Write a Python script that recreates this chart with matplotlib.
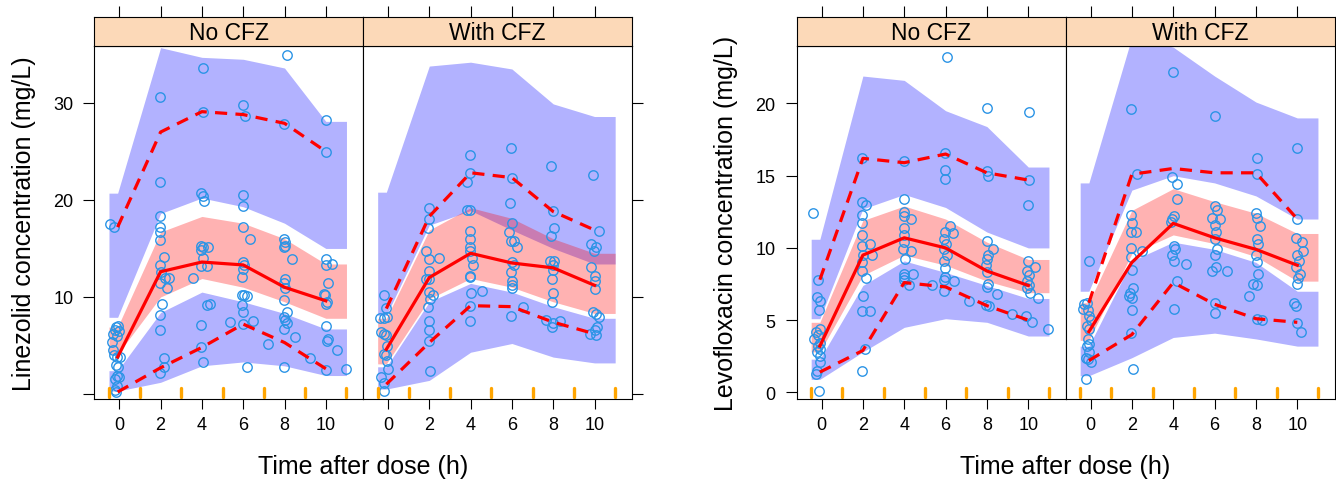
import matplotlib
matplotlib.use('Agg')
import matplotlib.pyplot as plt
import numpy as np

plt.rcParams['font.family'] = ['Liberation Sans', 'DejaVu Sans']

# ---------------- data ----------------
bin_t = [-0.08, 2, 4, 6, 8, 10]
bin_edges = [-0.5, 1, 3, 5, 7, 9, 11]
x_ticks = [0, 2, 4, 6, 8, 10]
x_tick_labels = ['0', '2', '4', '6', '8', '10']
strip_labels = ['No CFZ', 'With CFZ']
lzd_y_ticks = [0, 10, 20, 30]
lzd_y_tick_labels = ['', '10', '20', '30']
lfx_y_ticks = [0, 5, 10, 15, 20]
lfx_y_tick_labels = ['0', '5', '10', '15', '20']
lzd_ylabel = 'Linezolid concentration (mg/L)'
lfx_ylabel = 'Levofloxacin concentration (mg/L)'
xlabel = 'Time after dose (h)'

# Linezolid, No CFZ
lzd_no_t = [-0.45, -0.26, -0.16, -0.05, -0.21, 0.0, -0.29, -0.10, -0.37, -0.32, -0.26, -0.13, 0.03, -0.16, -0.05, -0.10, 0.0, -0.21, -0.13, -0.21, -0.16,
            1.97, 1.97, 1.97, 1.97, 1.97, 1.97, 2.16, 1.97, 2.0, 1.97, 2.21, 2.42, 2.29, 2.05, 1.97, 1.97, 2.16, 2.16, 1.97,
            4.03, 4.03, 3.98, 4.06, 4.10, 3.94, 4.06, 4.31, 3.94, 4.06, 3.98, 4.26, 3.55, 4.23, 4.39, 3.98, 3.98, 4.06,
            5.97, 6.08, 5.97, 5.97, 5.97, 6.32, 5.97, 6.03, 5.97, 5.94, 5.92, 6.03, 6.16, 5.94, 5.97, 6.45, 5.35, 6.0, 6.16,
            8.10, 7.97, 7.97, 8.02, 8.02, 7.97, 8.34, 8.02, 7.97, 8.02, 7.97, 8.10, 7.97, 8.02, 8.10, 7.97, 8.50, 7.21, 9.23, 7.97,
            10.0, 10.03, 10.0, 10.0, 10.32, 10.11, 9.90, 9.95, 10.06, 10.0, 10.0, 10.11, 10.06, 10.52, 10.03, 11.0]
lzd_no_c = [17.5, 17.2, 6.9, 7.0, 6.55, 6.45, 6.2, 6.0, 5.4, 4.5, 4.0, 3.8, 3.8, 3.0, 2.8, 1.9, 1.7, 1.55, 0.86, 0.45, 0.17,
            30.6, 21.9, 18.3, 17.2, 16.7, 15.9, 14.1, 13.3, 12.6, 11.4, 12.0, 12.0, 10.9, 9.3, 8.1, 6.55, 3.7, 2.8, 2.2,
            33.6, 29.1, 20.7, 20.4, 19.9, 15.3, 15.1, 15.2, 14.8, 14.0, 13.2, 13.2, 12.0, 9.2, 9.3, 7.1, 4.8, 3.3,
            29.8, 28.7, 20.5, 19.4, 17.2, 16.0, 13.6, 13.3, 12.9, 12.1, 10.2, 10.2, 10.1, 9.2, 8.4, 7.5, 7.4, 7.2, 2.8,
            34.9, 27.8, 16.0, 15.7, 15.3, 15.1, 13.9, 11.8, 11.4, 10.9, 9.7, 8.4, 7.9, 7.6, 7.3, 6.65, 5.9, 5.2, 3.7, 2.8,
            28.2, 24.9, 13.9, 13.3, 13.4, 11.4, 10.3, 10.2, 9.5, 9.3, 7.0, 5.7, 5.5, 4.5, 2.5, 2.6]
lzd_no_hi_hi = [20.7, 35.7, 34.7, 34.5, 33.6, 28.1]
lzd_no_hi_lo = [7.9, 18.6, 20.2, 19.3, 17.6, 15.0]
lzd_no_med_hi = [6.9, 16.7, 18.3, 17.6, 16.0, 13.4]
lzd_no_med_lo = [4.1, 10.0, 11.9, 11.0, 9.5, 7.8]
lzd_no_lo_hi = [2.4, 8.4, 10.5, 9.5, 8.3, 6.7]
lzd_no_lo_lo = [0.3, 1.2, 2.9, 3.3, 2.9, 1.9]
lzd_no_obs_med = [3.8, 12.6, 13.6, 13.3, 11.0, 9.6]
lzd_no_obs_hi = [17.2, 27.0, 29.1, 28.8, 27.9, 25.0]
lzd_no_obs_lo = [0.2, 2.7, 4.8, 7.2, 5.3, 2.6]

# Linezolid, With CFZ
lzd_cfz_t = [-0.21, -0.08, -0.37, -0.21, -0.05, -0.32, -0.21, -0.08, -0.05, -0.21, -0.11, -0.05, 0.0, -0.32, -0.21, -0.21,
             1.98, 1.98, 1.94, 1.85, 1.98, 2.47, 1.98, 1.98, 1.82, 1.98, 2.18, 2.02, 1.94, 1.98, 1.98, 1.98, 2.02,
             3.98, 3.95, 3.82, 3.82, 3.95, 3.95, 3.95, 3.95, 3.95, 4.08, 4.11, 3.95, 3.98, 4.03, 4.56, 3.95, 3.98,
             5.97, 6.02, 5.89, 6.02, 5.85, 5.97, 6.08, 6.24, 6.02, 6.08, 5.97, 6.02, 6.02, 6.02, 6.56, 5.97,
             7.90, 7.98, 8.06, 7.90, 7.85, 8.02, 7.98, 7.98, 7.95, 7.98, 7.95, 7.63, 8.31, 7.98, 7.95,
             9.92, 10.21, 9.84, 10.08, 9.97, 9.84, 10.0, 10.0, 10.0, 9.92, 10.05, 10.21, 10.11, 10.0, 9.76, 10.08]
lzd_cfz_c = [10.2, 8.9, 7.8, 7.8, 7.9, 6.4, 6.2, 6.1, 4.9, 4.1, 4.0, 3.4, 2.6, 1.7, 1.1, 0.34,
             19.2, 18.0, 17.1, 14.7, 13.9, 14.0, 12.7, 11.9, 11.8, 10.5, 10.2, 9.8, 9.0, 7.5, 6.55, 5.5, 2.4,
             24.6, 22.8, 21.8, 19.0, 19.0, 16.8, 16.0, 15.1, 14.7, 14.0, 13.3, 12.2, 12.1, 10.4, 10.6, 9.1, 7.5,
             25.4, 22.3, 19.7, 17.6, 16.7, 15.8, 15.8, 15.1, 13.6, 13.3, 12.6, 11.6, 11.2, 10.9, 9.0, 8.0,
             23.5, 18.9, 17.1, 16.3, 13.7, 13.7, 13.3, 12.8, 11.9, 10.4, 9.5, 7.6, 7.5, 7.3, 6.9,
             22.6, 16.8, 15.5, 15.2, 14.7, 13.1, 12.2, 11.6, 10.8, 8.4, 8.2, 7.9, 6.9, 6.55, 6.2, 6.1]
lzd_cfz_hi_hi = [20.8, 33.8, 34.2, 33.5, 29.9, 28.6]
lzd_cfz_hi_lo = [8.1, 17.4, 18.9, 16.9, 15.0, 13.4]
lzd_cfz_med_hi = [7.8, 16.9, 19.2, 18.1, 16.0, 14.5]
lzd_cfz_med_lo = [3.1, 9.8, 11.9, 11.0, 9.5, 8.3]
lzd_cfz_lo_hi = [2.8, 9.5, 11.4, 10.5, 9.0, 7.8]
lzd_cfz_lo_lo = [0.5, 1.4, 4.3, 5.2, 3.8, 3.2]
lzd_cfz_obs_med = [4.6, 12.0, 14.5, 13.5, 13.0, 11.2]
lzd_cfz_obs_hi = [8.8, 18.3, 22.8, 22.3, 18.8, 16.9]
lzd_cfz_obs_lo = [1.0, 5.3, 9.1, 9.0, 7.4, 6.2]

# Levofloxacin, No CFZ
lfx_no_t = [-0.40, -0.18, -0.24, -0.05, -0.13, -0.08, -0.29, -0.18, -0.37, -0.08, -0.18, -0.05, -0.21, -0.08, -0.05, -0.21, -0.29, -0.13,
            1.96, 1.96, 2.17, 1.96, 1.96, 1.96, 2.33, 1.96, 2.01, 2.44, 1.96, 1.96, 2.17, 2.01, 1.96, 2.33, 2.12, 1.96,
            4.0, 4.0, 4.0, 4.0, 4.32, 4.0, 4.0, 4.0, 3.94, 4.32, 4.05, 3.97, 4.42, 3.97, 4.0, 4.21, 5.34,
            6.06, 5.98, 5.98, 5.98, 6.19, 5.98, 6.35, 5.93, 6.03, 5.93, 6.06, 5.93, 5.98, 5.98, 6.41, 5.93, 5.90, 7.15,
            7.99, 7.99, 8.07, 7.99, 8.31, 8.07, 7.99, 7.96, 7.99, 8.07, 7.99, 8.47, 7.96, 8.12, 9.20,
            10.03, 10.03, 9.97, 9.97, 10.32, 9.92, 10.05, 9.92, 10.05, 9.92, 10.08, 10.48, 9.89, 10.16, 10.96]
lfx_no_c = [12.4, 7.8, 6.6, 6.3, 5.7, 4.4, 4.2, 4.0, 3.7, 3.4, 3.2, 3.0, 2.8, 2.5, 2.1, 1.5, 1.3, 0.1,
            16.2, 13.2, 13.0, 12.3, 11.7, 10.9, 10.3, 10.1, 9.5, 9.5, 9.0, 8.4, 7.9, 6.7, 5.6, 5.6, 3.0, 1.5,
            16.0, 13.4, 12.5, 12.2, 12.0, 11.4, 10.9, 10.4, 9.9, 9.8, 9.2, 8.2, 8.2, 8.0, 7.8, 7.4, 7.4,
            23.2, 16.6, 15.4, 14.8, 11.5, 11.1, 11.0, 10.6, 10.3, 9.9, 9.5, 9.1, 8.6, 8.0, 7.7, 7.8, 7.0, 6.3,
            19.7, 15.3, 15.0, 10.5, 9.9, 9.5, 9.2, 8.8, 8.3, 7.5, 7.3, 6.8, 6.05, 6.0, 5.4,
            19.4, 14.7, 13.0, 9.1, 8.7, 8.4, 8.1, 7.7, 7.4, 7.2, 6.9, 6.5, 5.3, 4.9, 4.4]
lfx_no_hi_hi = [10.6, 21.9, 21.6, 19.5, 18.4, 15.6]
lfx_no_hi_lo = [5.1, 12.7, 13.7, 12.8, 11.1, 10.0]
lfx_no_med_hi = [4.85, 11.9, 12.9, 12.0, 10.4, 9.2]
lfx_no_med_lo = [2.8, 8.1, 9.5, 8.8, 7.7, 6.9]
lfx_no_lo_hi = [2.3, 7.4, 9.1, 8.3, 7.4, 6.5]
lfx_no_lo_lo = [0.9, 2.8, 4.5, 5.1, 4.85, 3.9]
lfx_no_obs_med = [3.2, 9.5, 10.7, 10.0, 8.4, 7.4]
lfx_no_obs_hi = [7.8, 16.2, 15.9, 16.5, 15.2, 14.7]
lfx_no_obs_lo = [1.4, 2.9, 7.6, 7.3, 6.0, 5.0]

# Levofloxacin, With CFZ
lfx_cfz_t = [-0.08, -0.32, -0.19, -0.35, -0.13, -0.08, 0.0, -0.16, -0.08, -0.13, -0.08, -0.16, -0.08, -0.24, -0.13, 0.0, -0.24,
             1.97, 2.23, 1.97, 2.02, 1.97, 2.18, 1.97, 2.50, 1.97, 2.02, 2.06, 1.90, 1.85, 2.02, 2.02, 1.97, 2.06,
             4.0, 3.95, 4.16, 4.19, 3.95, 4.03, 3.87, 4.03, 4.11, 3.95, 4.03, 4.60, 4.16, 4.03,
             6.0, 6.0, 6.10, 5.89, 6.26, 6.0, 6.05, 6.0, 6.10, 6.0, 6.05, 5.89, 6.61, 6.0, 6.0,
             8.03, 8.03, 7.98, 8.06, 8.19, 8.03, 8.10, 7.98, 8.03, 8.10, 7.87, 8.06, 7.66, 8.03, 8.31,
             10.0, 10.0, 9.92, 10.24, 10.29, 10.0, 10.08, 9.92, 10.13, 10.03, 10.0, 9.84, 9.92, 10.0, 10.16]
lfx_cfz_c = [9.1, 6.1, 6.2, 5.8, 5.7, 5.3, 5.0, 4.6, 4.4, 3.7, 3.35, 3.2, 2.8, 2.4, 2.3, 2.1, 0.9,
             19.6, 15.1, 12.3, 11.7, 11.1, 11.1, 10.0, 9.8, 9.4, 8.5, 7.2, 6.9, 6.7, 6.5, 5.7, 4.1, 1.6,
             22.2, 14.9, 14.4, 13.4, 12.0, 12.2, 11.8, 10.1, 9.9, 9.5, 9.1, 8.9, 7.7, 5.8,
             19.1, 12.9, 12.6, 12.1, 12.0, 11.6, 11.1, 10.6, 9.9, 9.5, 8.7, 8.4, 8.4, 6.2, 5.5,
             16.2, 15.1, 12.4, 12.1, 11.5, 10.6, 10.3, 9.5, 9.0, 8.2, 7.5, 7.4, 6.65, 5.1, 5.0,
             16.9, 12.0, 10.7, 10.4, 9.8, 9.5, 9.1, 8.7, 8.2, 7.9, 7.5, 6.2, 6.0, 4.8, 4.2]
lfx_cfz_hi_hi = [14.5, 24.6, 23.9, 21.9, 20.1, 19.0]
lfx_cfz_hi_lo = [7.0, 14.0, 15.0, 14.5, 13.6, 12.0]
lfx_cfz_med_hi = [6.2, 12.6, 14.1, 13.2, 12.4, 11.0]
lfx_cfz_med_lo = [3.6, 9.6, 10.9, 10.3, 9.4, 7.7]
lfx_cfz_lo_hi = [3.2, 9.1, 10.4, 9.9, 9.0, 7.0]
lfx_cfz_lo_lo = [1.15, 2.4, 3.8, 4.1, 3.7, 3.2]
lfx_cfz_obs_med = [4.2, 9.0, 11.7, 10.7, 9.9, 8.8]
lfx_cfz_obs_hi = [6.2, 15.1, 15.5, 15.2, 15.2, 12.0]
lfx_cfz_obs_lo = [2.2, 4.0, 7.6, 6.1, 5.1, 4.85]

# ---------------- layout ----------------
W, H = 1336, 481
fig = plt.figure(figsize=(W / 100, H / 100), dpi=100)

PANEL_TOP, PANEL_BOT, STRIP_TOP = 46.7, 400.0, 18.3
XLIM = (-1.21, 11.8)
PT_COLOR = '#2B94E6'
STRIP_COLOR = '#FCD9B8'
LW_AX = 0.8


def px_axes(l, t, r, b):
    return fig.add_axes([l / W, 1 - b / H, (r - l) / W, (b - t) / H])


def ext(v):
    return [v[0]] + list(v) + [v[-1]]


def draw_panel(l, r, ylim, yticks, yticklabels, side, strip_text, t, c,
               hi_hi, hi_lo, med_hi, med_lo, lo_hi, lo_lo, o_med, o_hi, o_lo):
    ax = px_axes(l, PANEL_TOP, r, PANEL_BOT)
    ax.set_xlim(*XLIM)
    ax.set_ylim(*ylim)
    xe = [bin_edges[0]] + list(bin_t) + [bin_edges[-1]]
    ax.fill_between(xe, ext(lo_lo), ext(lo_hi), color='blue', alpha=0.3, lw=0)
    ax.fill_between(xe, ext(hi_lo), ext(hi_hi), color='blue', alpha=0.3, lw=0)
    ax.fill_between(xe, ext(med_lo), ext(med_hi), color='red', alpha=0.3, lw=0)
    ax.plot(t, c, 'o', mfc='none', mec=PT_COLOR, ms=6.8, mew=1.0)
    ax.plot(bin_t, o_med, color='red', lw=2.3)
    ax.plot(bin_t, o_hi, color='red', lw=2.3, ls=(0, (3.8, 2.6)))
    ax.plot(bin_t, o_lo, color='red', lw=2.3, ls=(0, (3.8, 2.6)))
    for b in bin_edges:
        ax.plot([b, b], [0.006, 0.03], transform=ax.get_xaxis_transform(),
                color='orange', lw=2.4, solid_capstyle='round', clip_on=False)
    ax.set_xticks(x_ticks)
    ax.set_xticklabels(x_tick_labels)
    ax.set_yticks(yticks)
    ax.set_yticklabels(yticklabels)
    ax.tick_params(axis='x', direction='out', length=7.5, width=LW_AX,
                   labelsize=13, pad=5, top=False)
    if side == 'left':
        ax.tick_params(axis='y', direction='out', length=8, width=LW_AX,
                       labelsize=13, pad=7, left=True, right=False,
                       labelleft=True, labelright=False)
    else:
        ax.tick_params(axis='y', direction='out', length=8, width=LW_AX,
                       left=False, right=True, labelleft=False, labelright=False)
    for s in ax.spines.values():
        s.set_linewidth(LW_AX)

    sax = px_axes(l, STRIP_TOP, r, PANEL_TOP)
    sax.set_facecolor(STRIP_COLOR)
    sax.set_xlim(*XLIM)
    sax.set_ylim(0, 1)
    sax.set_xticks(x_ticks)
    sax.set_yticks([])
    sax.tick_params(axis='x', direction='out', length=8, width=LW_AX,
                    top=True, bottom=False, labeltop=False, labelbottom=False)
    for s in sax.spines.values():
        s.set_linewidth(LW_AX)
    sax.text(0.5, 0.45, strip_text, transform=sax.transAxes, ha='center',
             va='center', fontsize=16.5)
    return ax


LZD_YLIM = (-0.52, 35.9)
LFX_YLIM = (-0.46, 24.0)

draw_panel(94.3, 363.0, LZD_YLIM, lzd_y_ticks, lzd_y_tick_labels, 'left', strip_labels[0],
           lzd_no_t, lzd_no_c, lzd_no_hi_hi, lzd_no_hi_lo, lzd_no_med_hi, lzd_no_med_lo,
           lzd_no_lo_hi, lzd_no_lo_lo, lzd_no_obs_med, lzd_no_obs_hi, lzd_no_obs_lo)
draw_panel(363.0, 631.7, LZD_YLIM, lzd_y_ticks, lzd_y_tick_labels, 'right', strip_labels[1],
           lzd_cfz_t, lzd_cfz_c, lzd_cfz_hi_hi, lzd_cfz_hi_lo, lzd_cfz_med_hi, lzd_cfz_med_lo,
           lzd_cfz_lo_hi, lzd_cfz_lo_lo, lzd_cfz_obs_med, lzd_cfz_obs_hi, lzd_cfz_obs_lo)
draw_panel(796.5, 1065.5, LFX_YLIM, lfx_y_ticks, lfx_y_tick_labels, 'left', strip_labels[0],
           lfx_no_t, lfx_no_c, lfx_no_hi_hi, lfx_no_hi_lo, lfx_no_med_hi, lfx_no_med_lo,
           lfx_no_lo_hi, lfx_no_lo_lo, lfx_no_obs_med, lfx_no_obs_hi, lfx_no_obs_lo)
draw_panel(1065.5, 1334.5, LFX_YLIM, lfx_y_ticks, lfx_y_tick_labels, 'right', strip_labels[1],
           lfx_cfz_t, lfx_cfz_c, lfx_cfz_hi_hi, lfx_cfz_hi_lo, lfx_cfz_med_hi, lfx_cfz_med_lo,
           lfx_cfz_lo_hi, lfx_cfz_lo_lo, lfx_cfz_obs_med, lfx_cfz_obs_hi, lfx_cfz_obs_lo)

mid_y = 1 - (PANEL_TOP + PANEL_BOT) / 2 / H
fig.text(24.5 / W, mid_y, lzd_ylabel, rotation=90, ha='center', va='center', fontsize=18)
fig.text(726 / W, mid_y, lfx_ylabel, rotation=90, ha='center', va='center', fontsize=18)
fig.text(363 / W, 1 - 467 / H, xlabel, ha='center', va='center', fontsize=18)
fig.text(1065.5 / W, 1 - 467 / H, xlabel, ha='center', va='center', fontsize=18)

fig.savefig('out.png', dpi=100)
